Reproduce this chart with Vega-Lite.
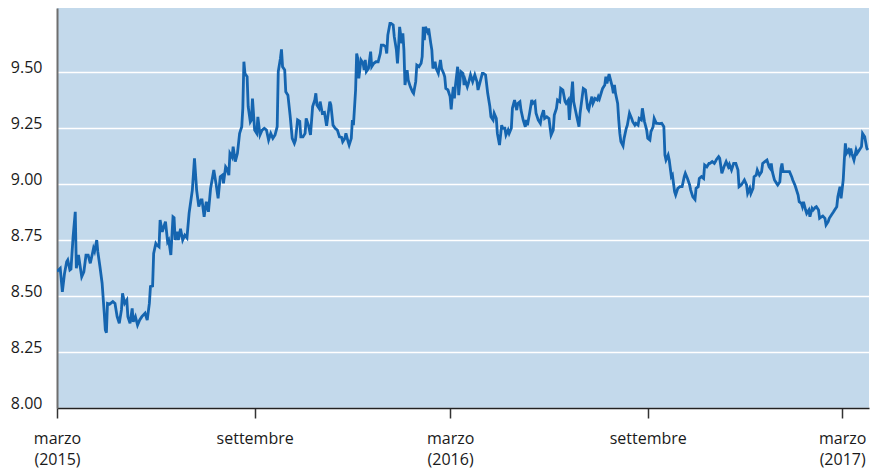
{
"$schema": "https://vega.github.io/schema/vega-lite/v6.json",
"width": 812, "height": 400,
"autosize": {"type": "none"},
"padding": {"left": 57, "top": 8, "right": 2, "bottom": 67},
"background": "white",
"config": {"view": {"fill": "#c3d9eb", "stroke": null}, "font": "Open Sans"},
"data": {"values": [
{"d":"2015-03-01","v":8.61},{"d":"2015-03-04","v":8.624},{"d":"2015-03-06","v":8.519},{"d":"2015-03-08","v":8.601},{"d":"2015-03-10","v":8.653},{"d":"2015-03-11","v":8.661},{"d":"2015-03-13","v":8.616},{"d":"2015-03-14","v":8.62},{"d":"2015-03-16","v":8.765},{"d":"2015-03-18","v":8.876},{"d":"2015-03-19","v":8.624},{"d":"2015-03-21","v":8.683},{"d":"2015-03-24","v":8.586},{"d":"2015-03-26","v":8.608},{"d":"2015-03-28","v":8.683},{"d":"2015-03-30","v":8.683},
{"d":"2015-04-01","v":8.646},{"d":"2015-04-03","v":8.69},{"d":"2015-04-04","v":8.713},{"d":"2015-04-05","v":8.70},{"d":"2015-04-07","v":8.75},{"d":"2015-04-08","v":8.698},{"d":"2015-04-10","v":8.631},{"d":"2015-04-12","v":8.557},{"d":"2015-04-14","v":8.423},{"d":"2015-04-15","v":8.348},{"d":"2015-04-16","v":8.336},{"d":"2015-04-17","v":8.467},{"d":"2015-04-19","v":8.464},{"d":"2015-04-22","v":8.475},{"d":"2015-04-24","v":8.467},{"d":"2015-04-26","v":8.408},{"d":"2015-04-28","v":8.378},{"d":"2015-04-30","v":8.438},
{"d":"2015-05-01","v":8.512},{"d":"2015-05-03","v":8.467},{"d":"2015-05-05","v":8.482},{"d":"2015-05-06","v":8.408},{"d":"2015-05-08","v":8.378},{"d":"2015-05-10","v":8.445},{"d":"2015-05-11","v":8.385},{"d":"2015-05-13","v":8.408},{"d":"2015-05-15","v":8.37},{"d":"2015-05-17","v":8.393},{"d":"2015-05-19","v":8.408},{"d":"2015-05-22","v":8.423},{"d":"2015-05-24","v":8.393},{"d":"2015-05-26","v":8.467},{"d":"2015-05-27","v":8.542},{"d":"2015-05-29","v":8.545},{"d":"2015-05-30","v":8.69},
{"d":"2015-06-01","v":8.735},{"d":"2015-06-02","v":8.728},{"d":"2015-06-04","v":8.72},{"d":"2015-06-05","v":8.839},{"d":"2015-06-07","v":8.787},{"d":"2015-06-09","v":8.817},{"d":"2015-06-10","v":8.832},{"d":"2015-06-12","v":8.742},{"d":"2015-06-13","v":8.75},{"d":"2015-06-15","v":8.683},{"d":"2015-06-17","v":8.854},{"d":"2015-06-18","v":8.85},{"d":"2015-06-19","v":8.75},{"d":"2015-06-21","v":8.787},{"d":"2015-06-22","v":8.75},{"d":"2015-06-24","v":8.80},{"d":"2015-06-26","v":8.75},{"d":"2015-06-28","v":8.772},{"d":"2015-06-30","v":8.76},
{"d":"2015-07-02","v":8.87},{"d":"2015-07-05","v":8.973},{"d":"2015-07-07","v":9.115},{"d":"2015-07-09","v":8.973},{"d":"2015-07-11","v":8.899},{"d":"2015-07-13","v":8.929},{"d":"2015-07-14","v":8.929},{"d":"2015-07-16","v":8.854},{"d":"2015-07-18","v":8.921},{"d":"2015-07-20","v":8.876},{"d":"2015-07-22","v":8.98},{"d":"2015-07-25","v":9.0625},{"d":"2015-07-27","v":9.003},{"d":"2015-07-29","v":8.936},{"d":"2015-07-31","v":9.033},
{"d":"2015-08-02","v":9.04},{"d":"2015-08-03","v":9.003},{"d":"2015-08-05","v":9.077},{"d":"2015-08-06","v":9.07},{"d":"2015-08-08","v":9.04},{"d":"2015-08-09","v":9.137},{"d":"2015-08-11","v":9.12},{"d":"2015-08-12","v":9.167},{"d":"2015-08-14","v":9.10},{"d":"2015-08-16","v":9.137},{"d":"2015-08-18","v":9.226},{"d":"2015-08-20","v":9.256},{"d":"2015-08-21","v":9.338},{"d":"2015-08-22","v":9.546},{"d":"2015-08-23","v":9.494},{"d":"2015-08-25","v":9.479},{"d":"2015-08-26","v":9.346},{"d":"2015-08-28","v":9.278},{"d":"2015-08-29","v":9.286},{"d":"2015-08-30","v":9.382},
{"d":"2015-09-01","v":9.241},{"d":"2015-09-03","v":9.226},{"d":"2015-09-04","v":9.30},{"d":"2015-09-06","v":9.219},{"d":"2015-09-08","v":9.241},{"d":"2015-09-10","v":9.249},{"d":"2015-09-12","v":9.241},{"d":"2015-09-14","v":9.196},{"d":"2015-09-16","v":9.226},{"d":"2015-09-18","v":9.204},{"d":"2015-09-20","v":9.219},{"d":"2015-09-22","v":9.256},{"d":"2015-09-23","v":9.502},{"d":"2015-09-25","v":9.561},{"d":"2015-09-26","v":9.601},{"d":"2015-09-27","v":9.524},{"d":"2015-09-29","v":9.509},{"d":"2015-09-30","v":9.412},
{"d":"2015-10-02","v":9.397},{"d":"2015-10-04","v":9.308},{"d":"2015-10-06","v":9.204},{"d":"2015-10-08","v":9.182},{"d":"2015-10-09","v":9.196},{"d":"2015-10-11","v":9.286},{"d":"2015-10-13","v":9.28},{"d":"2015-10-14","v":9.211},{"d":"2015-10-16","v":9.211},{"d":"2015-10-18","v":9.226},{"d":"2015-10-19","v":9.293},{"d":"2015-10-21","v":9.263},{"d":"2015-10-23","v":9.219},{"d":"2015-10-25","v":9.346},{"d":"2015-10-27","v":9.375},{"d":"2015-10-28","v":9.405},{"d":"2015-10-29","v":9.353},{"d":"2015-10-31","v":9.338},
{"d":"2015-11-01","v":9.368},{"d":"2015-11-03","v":9.316},{"d":"2015-11-05","v":9.32},{"d":"2015-11-07","v":9.26},{"d":"2015-11-10","v":9.368},{"d":"2015-11-11","v":9.353},{"d":"2015-11-13","v":9.263},{"d":"2015-11-15","v":9.249},{"d":"2015-11-17","v":9.241},{"d":"2015-11-19","v":9.211},{"d":"2015-11-21","v":9.208},{"d":"2015-11-22","v":9.189},{"d":"2015-11-24","v":9.204},{"d":"2015-11-25","v":9.226},{"d":"2015-11-27","v":9.189},{"d":"2015-11-28","v":9.174},{"d":"2015-11-30","v":9.204},
{"d":"2015-12-01","v":9.286},{"d":"2015-12-02","v":9.263},{"d":"2015-12-04","v":9.42},{"d":"2015-12-05","v":9.583},{"d":"2015-12-06","v":9.561},{"d":"2015-12-07","v":9.472},{"d":"2015-12-09","v":9.554},{"d":"2015-12-11","v":9.539},{"d":"2015-12-12","v":9.509},{"d":"2015-12-13","v":9.554},{"d":"2015-12-14","v":9.502},{"d":"2015-12-16","v":9.516},{"d":"2015-12-18","v":9.591},{"d":"2015-12-19","v":9.524},{"d":"2015-12-21","v":9.539},{"d":"2015-12-23","v":9.546},{"d":"2015-12-25","v":9.546},{"d":"2015-12-27","v":9.583},{"d":"2015-12-28","v":9.62},{"d":"2015-12-30","v":9.62},
{"d":"2016-01-01","v":9.613},{"d":"2016-01-02","v":9.583},{"d":"2016-01-03","v":9.665},{"d":"2016-01-05","v":9.717},{"d":"2016-01-06","v":9.717},{"d":"2016-01-08","v":9.71},{"d":"2016-01-09","v":9.658},{"d":"2016-01-11","v":9.598},{"d":"2016-01-12","v":9.539},{"d":"2016-01-13","v":9.613},{"d":"2016-01-14","v":9.702},{"d":"2016-01-16","v":9.628},{"d":"2016-01-17","v":9.673},{"d":"2016-01-18","v":9.598},{"d":"2016-01-19","v":9.442},{"d":"2016-01-21","v":9.509},{"d":"2016-01-22","v":9.464},{"d":"2016-01-24","v":9.434},{"d":"2016-01-26","v":9.412},{"d":"2016-01-27","v":9.405},{"d":"2016-01-29","v":9.457},{"d":"2016-01-30","v":9.531},
{"d":"2016-02-01","v":9.524},{"d":"2016-02-03","v":9.539},{"d":"2016-02-04","v":9.569},{"d":"2016-02-05","v":9.702},{"d":"2016-02-06","v":9.643},{"d":"2016-02-07","v":9.702},{"d":"2016-02-09","v":9.68},{"d":"2016-02-10","v":9.695},{"d":"2016-02-12","v":9.628},{"d":"2016-02-13","v":9.598},{"d":"2016-02-14","v":9.516},{"d":"2016-02-16","v":9.546},{"d":"2016-02-17","v":9.516},{"d":"2016-02-19","v":9.494},{"d":"2016-02-20","v":9.524},{"d":"2016-02-21","v":9.554},{"d":"2016-02-22","v":9.516},{"d":"2016-02-24","v":9.494},{"d":"2016-02-25","v":9.479},{"d":"2016-02-26","v":9.427},{"d":"2016-02-28","v":9.42},
{"d":"2016-03-01","v":9.39},{"d":"2016-03-02","v":9.333},{"d":"2016-03-03","v":9.39},{"d":"2016-03-04","v":9.434},{"d":"2016-03-05","v":9.382},{"d":"2016-03-06","v":9.442},{"d":"2016-03-08","v":9.524},{"d":"2016-03-09","v":9.397},{"d":"2016-03-11","v":9.502},{"d":"2016-03-13","v":9.494},{"d":"2016-03-14","v":9.442},{"d":"2016-03-15","v":9.464},{"d":"2016-03-17","v":9.434},{"d":"2016-03-18","v":9.449},{"d":"2016-03-20","v":9.487},{"d":"2016-03-22","v":9.457},{"d":"2016-03-24","v":9.487},{"d":"2016-03-26","v":9.457},{"d":"2016-03-27","v":9.42},{"d":"2016-03-29","v":9.457},{"d":"2016-03-31","v":9.494},
{"d":"2016-04-01","v":9.494},{"d":"2016-04-03","v":9.487},{"d":"2016-04-05","v":9.405},{"d":"2016-04-07","v":9.346},{"d":"2016-04-08","v":9.30},{"d":"2016-04-10","v":9.286},{"d":"2016-04-11","v":9.316},{"d":"2016-04-13","v":9.293},{"d":"2016-04-14","v":9.226},{"d":"2016-04-16","v":9.174},{"d":"2016-04-18","v":9.263},{"d":"2016-04-19","v":9.249},{"d":"2016-04-21","v":9.249},{"d":"2016-04-22","v":9.219},{"d":"2016-04-24","v":9.241},{"d":"2016-04-25","v":9.226},{"d":"2016-04-27","v":9.249},{"d":"2016-04-28","v":9.338},{"d":"2016-04-30","v":9.375},
{"d":"2016-05-02","v":9.33},{"d":"2016-05-03","v":9.36},{"d":"2016-05-05","v":9.368},{"d":"2016-05-06","v":9.33},{"d":"2016-05-08","v":9.286},{"d":"2016-05-10","v":9.256},{"d":"2016-05-11","v":9.286},{"d":"2016-05-12","v":9.263},{"d":"2016-05-14","v":9.316},{"d":"2016-05-16","v":9.375},{"d":"2016-05-17","v":9.36},{"d":"2016-05-19","v":9.368},{"d":"2016-05-20","v":9.316},{"d":"2016-05-22","v":9.286},{"d":"2016-05-24","v":9.271},{"d":"2016-05-25","v":9.30},{"d":"2016-05-27","v":9.33},{"d":"2016-05-28","v":9.293},{"d":"2016-05-30","v":9.30},
{"d":"2016-06-01","v":9.293},{"d":"2016-06-02","v":9.256},{"d":"2016-06-03","v":9.219},{"d":"2016-06-05","v":9.241},{"d":"2016-06-06","v":9.308},{"d":"2016-06-08","v":9.338},{"d":"2016-06-09","v":9.375},{"d":"2016-06-11","v":9.368},{"d":"2016-06-12","v":9.427},{"d":"2016-06-14","v":9.42},{"d":"2016-06-16","v":9.368},{"d":"2016-06-17","v":9.36},{"d":"2016-06-19","v":9.375},{"d":"2016-06-20","v":9.286},{"d":"2016-06-21","v":9.346},{"d":"2016-06-23","v":9.457},{"d":"2016-06-24","v":9.368},{"d":"2016-06-26","v":9.323},{"d":"2016-06-27","v":9.30},{"d":"2016-06-29","v":9.256},{"d":"2016-06-30","v":9.316},
{"d":"2016-07-02","v":9.39},{"d":"2016-07-03","v":9.427},{"d":"2016-07-05","v":9.42},{"d":"2016-07-07","v":9.338},{"d":"2016-07-08","v":9.33},{"d":"2016-07-09","v":9.353},{"d":"2016-07-11","v":9.39},{"d":"2016-07-12","v":9.36},{"d":"2016-07-14","v":9.382},{"d":"2016-07-16","v":9.375},{"d":"2016-07-17","v":9.39},{"d":"2016-07-18","v":9.38},{"d":"2016-07-20","v":9.412},{"d":"2016-07-21","v":9.427},{"d":"2016-07-23","v":9.442},{"d":"2016-07-24","v":9.479},{"d":"2016-07-25","v":9.449},{"d":"2016-07-27","v":9.491},{"d":"2016-07-28","v":9.472},{"d":"2016-07-30","v":9.434},{"d":"2016-07-31","v":9.405},
{"d":"2016-08-01","v":9.442},{"d":"2016-08-02","v":9.405},{"d":"2016-08-04","v":9.36},{"d":"2016-08-05","v":9.286},{"d":"2016-08-06","v":9.226},{"d":"2016-08-07","v":9.189},{"d":"2016-08-09","v":9.17},{"d":"2016-08-10","v":9.204},{"d":"2016-08-12","v":9.249},{"d":"2016-08-13","v":9.263},{"d":"2016-08-15","v":9.316},{"d":"2016-08-17","v":9.293},{"d":"2016-08-18","v":9.278},{"d":"2016-08-20","v":9.263},{"d":"2016-08-21","v":9.271},{"d":"2016-08-23","v":9.263},{"d":"2016-08-24","v":9.293},{"d":"2016-08-26","v":9.286},{"d":"2016-08-27","v":9.338},{"d":"2016-08-29","v":9.278},{"d":"2016-08-31","v":9.241},
{"d":"2016-09-01","v":9.204},{"d":"2016-09-03","v":9.196},{"d":"2016-09-04","v":9.234},{"d":"2016-09-06","v":9.256},{"d":"2016-09-07","v":9.293},{"d":"2016-09-09","v":9.271},{"d":"2016-09-10","v":9.271},{"d":"2016-09-12","v":9.27},{"d":"2016-09-14","v":9.271},{"d":"2016-09-16","v":9.256},{"d":"2016-09-17","v":9.129},{"d":"2016-09-18","v":9.107},{"d":"2016-09-20","v":9.129},{"d":"2016-09-21","v":9.107},{"d":"2016-09-23","v":9.033},{"d":"2016-09-24","v":9.04},{"d":"2016-09-26","v":8.966},{"d":"2016-09-27","v":8.951},{"d":"2016-09-29","v":8.981},
{"d":"2016-10-01","v":8.988},{"d":"2016-10-03","v":8.988},{"d":"2016-10-05","v":9.033},{"d":"2016-10-06","v":9.048},{"d":"2016-10-08","v":9.025},{"d":"2016-10-10","v":8.996},{"d":"2016-10-11","v":8.973},{"d":"2016-10-13","v":8.943},{"d":"2016-10-15","v":8.931},{"d":"2016-10-16","v":8.981},{"d":"2016-10-18","v":8.988},{"d":"2016-10-19","v":9.025},{"d":"2016-10-21","v":9.033},{"d":"2016-10-23","v":9.025},{"d":"2016-10-24","v":9.085},{"d":"2016-10-26","v":9.077},{"d":"2016-10-28","v":9.092},{"d":"2016-10-29","v":9.092},{"d":"2016-10-31","v":9.10},
{"d":"2016-11-02","v":9.092},{"d":"2016-11-03","v":9.10},{"d":"2016-11-04","v":9.11},{"d":"2016-11-06","v":9.122},{"d":"2016-11-07","v":9.115},{"d":"2016-11-09","v":9.048},{"d":"2016-11-11","v":9.077},{"d":"2016-11-13","v":9.10},{"d":"2016-11-15","v":9.077},{"d":"2016-11-16","v":9.088},{"d":"2016-11-18","v":9.0625},{"d":"2016-11-20","v":9.092},{"d":"2016-11-22","v":9.092},{"d":"2016-11-24","v":9.0625},{"d":"2016-11-25","v":8.988},{"d":"2016-11-27","v":8.996},{"d":"2016-11-29","v":9.01},{"d":"2016-11-30","v":9.018},
{"d":"2016-12-02","v":8.996},{"d":"2016-12-03","v":8.958},{"d":"2016-12-05","v":8.981},{"d":"2016-12-06","v":8.958},{"d":"2016-12-08","v":8.981},{"d":"2016-12-09","v":9.033},{"d":"2016-12-11","v":9.04},{"d":"2016-12-12","v":9.0625},{"d":"2016-12-14","v":9.04},{"d":"2016-12-16","v":9.055},{"d":"2016-12-17","v":9.092},{"d":"2016-12-19","v":9.10},{"d":"2016-12-21","v":9.107},{"d":"2016-12-23","v":9.077},{"d":"2016-12-24","v":9.07},{"d":"2016-12-25","v":9.092},{"d":"2016-12-26","v":9.055},{"d":"2016-12-28","v":9.018},{"d":"2016-12-30","v":9.003},{"d":"2016-12-31","v":8.996},
{"d":"2017-01-02","v":9.01},{"d":"2017-01-03","v":9.07},{"d":"2017-01-04","v":9.092},{"d":"2017-01-05","v":9.055},{"d":"2017-01-07","v":9.055},{"d":"2017-01-09","v":9.055},{"d":"2017-01-11","v":9.055},{"d":"2017-01-13","v":9.033},{"d":"2017-01-14","v":9.018},{"d":"2017-01-16","v":8.996},{"d":"2017-01-17","v":8.981},{"d":"2017-01-19","v":8.951},{"d":"2017-01-20","v":8.921},{"d":"2017-01-22","v":8.914},{"d":"2017-01-23","v":8.899},{"d":"2017-01-24","v":8.921},{"d":"2017-01-26","v":8.884},{"d":"2017-01-27","v":8.869},{"d":"2017-01-29","v":8.884},{"d":"2017-01-30","v":8.854},
{"d":"2017-02-01","v":8.891},{"d":"2017-02-02","v":8.884},{"d":"2017-02-04","v":8.896},{"d":"2017-02-05","v":8.899},{"d":"2017-02-07","v":8.884},{"d":"2017-02-08","v":8.847},{"d":"2017-02-10","v":8.854},{"d":"2017-02-11","v":8.857},{"d":"2017-02-13","v":8.847},{"d":"2017-02-14","v":8.817},{"d":"2017-02-16","v":8.832},{"d":"2017-02-17","v":8.847},{"d":"2017-02-19","v":8.862},{"d":"2017-02-21","v":8.876},{"d":"2017-02-22","v":8.884},{"d":"2017-02-24","v":8.899},{"d":"2017-02-25","v":8.943},{"d":"2017-02-27","v":8.988},{"d":"2017-02-28","v":8.936},
{"d":"2017-03-02","v":9.018},{"d":"2017-03-03","v":9.107},{"d":"2017-03-04","v":9.182},{"d":"2017-03-05","v":9.137},{"d":"2017-03-07","v":9.152},{"d":"2017-03-08","v":9.137},{"d":"2017-03-09","v":9.159},{"d":"2017-03-10","v":9.137},{"d":"2017-03-12","v":9.107},{"d":"2017-03-13","v":9.129},{"d":"2017-03-14","v":9.152},{"d":"2017-03-15","v":9.137},{"d":"2017-03-17","v":9.152},{"d":"2017-03-19","v":9.167},{"d":"2017-03-20","v":9.226},{"d":"2017-03-22","v":9.211},{"d":"2017-03-24","v":9.159},{"d":"2017-03-25","v":9.152}
]},
"mark": {"type": "line", "color": "#1565b0", "strokeWidth": 2.8, "clip": true},
"encoding": {
  "x": {"field": "d", "type": "temporal",
    "scale": {"type": "utc", "domain": [{"year": 2015, "month": "mar", "date": 1, "utc": true}, {"year": 2017, "month": "mar", "date": 26, "utc": true}]},
    "axis": {"title": null, "grid": false,
      "values": [{"year": 2015, "month": "mar", "date": 1, "utc": true}, {"year": 2015, "month": "sep", "date": 1, "utc": true}, {"year": 2016, "month": "mar", "date": 1, "utc": true}, {"year": 2016, "month": "sep", "date": 1, "utc": true}, {"year": 2017, "month": "mar", "date": 1, "utc": true}],
      "labelExpr": "utcmonth(datum.value) == 2 ? ['marzo', '(' + utcyear(datum.value) + ')'] : 'settembre'",
      "labelFontSize": 16, "labelColor": "#1a1a1a", "labelLineHeight": 21, "labelPadding": 12,
      "labelAlign": "center", "labelBaseline": "top", "labelFlush": false, "labelOverlap": false,
      "tickSize": 10, "tickColor": "#333333", "tickWidth": 1.5,
      "domainColor": "#222222", "domainWidth": 1.6}},
  "y": {"field": "v", "type": "quantitative",
    "scale": {"domain": [8, 9.786], "nice": false, "zero": false},
    "axis": {"title": null, "values": [8, 8.25, 8.5, 8.75, 9, 9.25, 9.5], "format": ".2f",
      "grid": true, "gridColor": "#ffffff", "gridWidth": 1.3, "ticks": false,
      "domainColor": "#6e6e6e", "domainWidth": 2,
      "labelFontSize": 16, "labelColor": "#1a1a1a", "labelPadding": 15, "labelBaseline": "alphabetic"}}
}
}
